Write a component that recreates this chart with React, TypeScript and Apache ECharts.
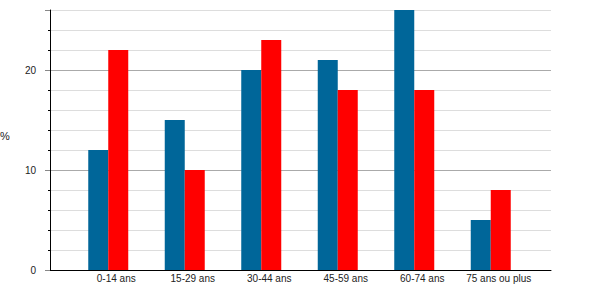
import React, { useEffect, useRef } from "react";
import * as echarts from "echarts";

const categories = ["0-14 ans", "15-29 ans", "30-44 ans", "45-59 ans", "60-74 ans", "75 ans ou plus"];
const seriesBlue = [12, 15, 20, 21, 26, 5];
const seriesRed = [22, 10, 23, 18, 18, 8];
const yMin = 0;
const yMax = 26;
const yLabelValues = [0, 10, 20];

export default function App() {
  const ref = useRef<HTMLDivElement>(null);
  useEffect(() => {
    document.body.style.margin = "0";
    if (!ref.current) return;
    const chart = echarts.init(ref.current, null, { renderer: "svg" });
    const font = "'Liberation Sans', Arial, sans-serif";
    chart.setOption({
      animation: false,
      backgroundColor: "#ffffff",
      grid: [
        { left: 50, right: 49, top: 10, bottom: 30 },
        { left: 70, right: 71, top: 10, bottom: 30 },
      ],
      xAxis: [
        {
          gridIndex: 0,
          type: "value",
          min: 0,
          max: 1,
          axisLine: { show: true, onZero: false, lineStyle: { color: "#000", width: 1 } },
          axisTick: { show: false },
          axisLabel: { show: false },
          splitLine: { show: false },
        },
        {
          gridIndex: 1,
          type: "category",
          data: categories,
          axisLine: { show: false },
          axisTick: { show: false },
          axisLabel: {
            margin: 3,
            fontSize: 10,
            color: "#222",
            fontFamily: font,
            interval: 0,
            padding: [0, 0, 0, 16],
          },
          splitLine: { show: false },
        },
      ],
      yAxis: [
        {
          gridIndex: 0,
          type: "value",
          min: yMin,
          max: yMax,
          interval: 2,
          axisLine: { show: true, lineStyle: { color: "#000", width: 1 } },
          axisTick: { show: true, length: 2, lineStyle: { color: "#000" } },
          axisLabel: {
            margin: 14,
            fontSize: 10,
            color: "#222",
            fontFamily: font,
            formatter: (v: number) => (yLabelValues.includes(v) ? String(v) : ""),
          },
          splitLine: {
            show: true,
            lineStyle: { color: ["#aaaaaa", "#dddddd", "#dddddd", "#dddddd", "#dddddd"], width: 1 },
          },
        },
        {
          gridIndex: 0,
          type: "value",
          position: "left",
          min: 0,
          max: yMax,
          interval: 10,
          axisLine: { show: false },
          axisTick: { show: true, length: 5, lineStyle: { color: "#888" } },
          axisLabel: { show: false },
          splitLine: { show: false },
        },
        {
          gridIndex: 1,
          type: "value",
          min: yMin,
          max: yMax,
          show: false,
        },
      ],
      graphic: [
        {
          type: "text",
          left: 0,
          top: 130,
          style: { text: "%", fontSize: 11, fill: "#222", fontFamily: font },
        },
      ],
      series: [
        {
          type: "bar",
          xAxisIndex: 1,
          yAxisIndex: 2,
          data: seriesBlue,
          barWidth: 20,
          barGap: "0%",
          itemStyle: { color: "#006699" },
        },
        {
          type: "bar",
          xAxisIndex: 1,
          yAxisIndex: 2,
          data: seriesRed,
          barWidth: 20,
          barGap: "0%",
          itemStyle: { color: "#ff0000" },
        },
      ],
    });
    return () => chart.dispose();
  }, []);
  return <div ref={ref} style={{ width: 600, height: 300 }} />;
}
